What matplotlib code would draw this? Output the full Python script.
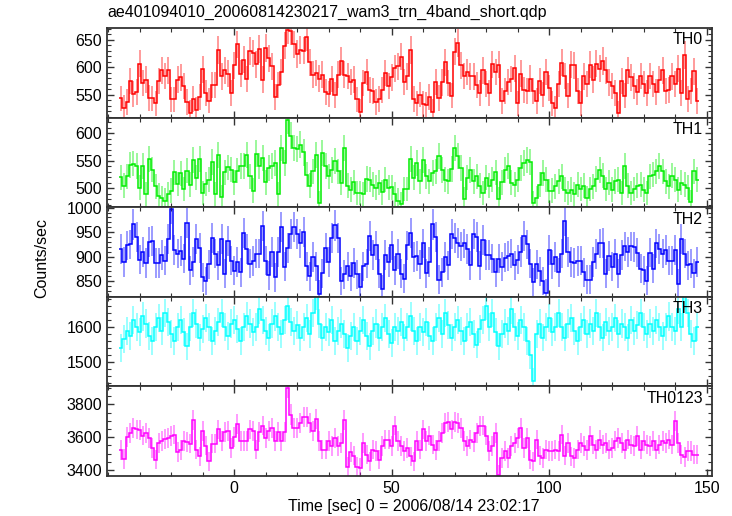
import numpy as np
import matplotlib
matplotlib.use("Agg")
import matplotlib.pyplot as plt
from matplotlib.ticker import MultipleLocator

plt.rcParams['font.family'] = ['Liberation Sans', 'DejaVu Sans']

# 1 s bins, first bin centred at -36 s
t_first = -36
t_last = 147

th0 = [543, 526, 536, 575, 551, 554, 606, 571, 577, 544,
       543, 534, 575, 594, 584, 594, 541, 541, 577, 581,
       566, 536, 517, 542, 522, 546, 596, 553, 539, 568,
       568, 631, 583, 594, 588, 552, 603, 641, 588, 613,
       578, 629, 625, 605, 633, 577, 634, 616, 601, 546,
       568, 591, 639, 667, 666, 641, 624, 631, 630, 655,
       609, 586, 589, 579, 586, 554, 551, 578, 549, 586,
       611, 586, 584, 573, 577, 541, 519, 571, 591, 558,
       556, 536, 542, 558, 589, 566, 581, 598, 601, 619,
       573, 583, 631, 542, 534,
       550, 533, 531, 546, 519, 573, 544, 572, 609, 571,
       548, 628, 643, 603, 584, 591, 583, 583, 567, 552,
       594, 569, 552, 605, 591, 604, 538, 556, 573, 578,
       598, 534, 588, 559, 556, 579, 556, 538, 575, 550,
       591, 561, 534, 525, 569, 608, 584, 548, 604, 603,
       556, 534, 583, 569, 604, 577, 606, 597, 611, 594,
       572, 566, 553, 516, 575, 548, 594, 581, 566, 554,
       584, 569, 553, 584, 569, 554, 577, 594, 556, 559,
       583, 569, 597, 553, 622, 542, 556, 592, 538]

th1 = [520, 505, 522, 543, 545, 541, 501, 540, 489, 553,
       534, 504, 487, 483, 478, 489, 496, 529, 508, 527,
       499, 532, 507, 552, 519, 553, 492, 508, 516, 547,
       490, 561, 484, 529, 538, 534, 511, 532, 540, 540,
       561, 522, 496, 563, 540, 555, 511, 537, 540, 546,
       490, 573, 546,
       623,
       595, 573, 571, 579, 565, 525, 505, 531, 561, 474,
       564, 540, 522, 533, 549, 531, 510, 573, 505, 498,
       511, 492, 492, 490, 517, 516, 507, 501, 510, 493,
       516, 501, 502, 489, 478, 471,
       499, 499, 553, 519, 546,
       513, 552, 522, 513, 528, 531, 558, 533, 516, 513,
       535, 573, 558, 537, 480, 519, 533, 513, 522, 505,
       492, 519, 505, 516, 529, 480, 511, 533, 540, 510,
       507, 516, 537, 546, 552, 547, 474, 483, 507, 528,
       516, 495, 496, 504, 513, 522, 498, 492, 498, 489,
       507, 499, 505, 483, 499, 504, 517, 533, 523, 499,
       510, 498, 513, 516, 492, 540, 505, 492, 499, 505,
       507, 498, 492, 522, 525, 531, 540, 531, 513, 504,
       523, 516, 498, 510, 507, 501, 475, 531,
       516]

th2 = [915, 889, 923, 925, 966, 940, 894, 910, 887, 930,
       932, 887, 887, 903, 892, 936, 998, 914, 906, 911,
       896, 969, 872, 889, 937, 918, 858, 850, 884, 938,
       906, 882, 937, 865, 932, 892, 871, 889, 868, 949,
       916, 886, 891, 906, 906, 963, 892, 862, 910, 858,
       910, 961, 879, 918, 947, 961, 947, 927, 951, 880,
       860, 899, 880, 824, 866, 918, 889, 938, 964, 938,
       850, 864, 880, 860, 887, 864, 838, 880, 886, 942,
       903, 923, 865, 834, 903, 889, 923, 872, 905, 865,
       855, 923, 949, 899,
       901, 884, 927, 866, 889, 966, 940, 853, 868, 899,
       882, 947, 938, 928, 921, 927, 916, 882, 946, 940,
       881, 934, 903, 903, 896, 868, 896, 879, 898, 901,
       906, 882, 894, 910, 943, 925, 886, 848, 884, 870,
       850, 825, 913, 884, 899, 868, 906, 973, 910, 889,
       887, 891, 892, 868, 853, 853, 889, 905, 927, 928,
       865, 901, 879, 906, 865, 903, 921, 910, 921, 920,
       908, 875, 872, 851, 908, 875, 927, 915, 906, 913,
       892, 892, 913, 845, 937, 906, 882, 886, 866, 889]

th3 = [1540, 1565, 1590, 1575, 1620, 1600, 1585, 1630, 1610, 1575,
       1560, 1600, 1625, 1590, 1640, 1615, 1580, 1560, 1600, 1620,
       1585, 1545, 1600, 1640, 1610, 1570, 1595, 1625, 1600, 1560,
       1590, 1615, 1640, 1600, 1575, 1610, 1620, 1595, 1560, 1600,
       1630, 1610, 1585, 1600, 1650, 1620, 1590, 1570, 1610, 1630,
       1600, 1580, 1620, 1660, 1615, 1590, 1605, 1570, 1600, 1625,
       1580, 1640, 1690, 1610, 1570, 1600, 1585, 1620, 1560, 1590,
       1610, 1580, 1540, 1575, 1600, 1560, 1590, 1620, 1575, 1545,
       1590, 1610, 1570, 1600, 1625, 1580, 1555, 1600, 1590, 1615,
       1570, 1600, 1630, 1590, 1560, 1600, 1585, 1615, 1575, 1560,
       1600, 1625, 1580, 1640, 1605, 1570, 1600, 1620, 1590, 1560,
       1600, 1615, 1580, 1550, 1595, 1620, 1660, 1600, 1640, 1585,
       1545, 1580, 1610, 1590, 1650, 1600, 1575, 1620, 1600, 1560,
       1520, 1445, 1580, 1610, 1570, 1600, 1625, 1585, 1600, 1640,
       1600, 1570, 1610, 1625, 1590, 1560, 1600, 1620, 1580, 1610,
       1590, 1640, 1600, 1570, 1615, 1590, 1600, 1625, 1580, 1610,
       1600, 1570, 1620, 1590, 1605, 1640, 1600, 1580, 1610, 1590,
       1620, 1600, 1575, 1600, 1630, 1600, 1590, 1650, 1600, 1690,
       1640, 1580, 1560, 1600]

th0123 = [3521, 3468, 3600, 3626, 3657, 3647, 3643, 3610, 3626, 3596,
          3535, 3464, 3565, 3576, 3590, 3596, 3606, 3616, 3509, 3521,
          3576, 3570, 3561, 3704, 3525, 3484, 3637, 3549, 3454, 3561,
          3561, 3647, 3576, 3630, 3637, 3535, 3602, 3681, 3576, 3576,
          3576, 3647, 3637, 3525, 3630, 3671, 3596, 3637, 3657, 3576,
          3630, 3576, 3630, 3900, 3738, 3657, 3657, 3687, 3724, 3724,
          3687, 3637, 3708, 3576, 3525, 3525, 3576, 3545, 3596, 3545,
          3565, 3704, 3419, 3509, 3488, 3419, 3413, 3565, 3494, 3454,
          3525, 3515, 3464, 3545, 3586, 3586, 3545, 3671, 3576, 3545,
          3515, 3535, 3484, 3454, 3576, 3525, 3647, 3576, 3610, 3555,
          3521, 3576, 3626, 3687, 3691, 3647, 3691, 3687, 3657, 3576,
          3545, 3586, 3570, 3626, 3667, 3671, 3610, 3515, 3545, 3626,
          3373, 3474, 3515, 3474, 3545, 3565, 3596, 3657, 3535, 3596,
          3464, 3454, 3586, 3488, 3474, 3525, 3515, 3515, 3525, 3515,
          3616, 3488, 3565, 3484, 3474, 3525, 3565, 3545, 3521, 3606,
          3555, 3525, 3586, 3555, 3565, 3525, 3535, 3576, 3596, 3565,
          3525, 3586, 3555, 3545, 3606, 3525, 3576, 3555, 3545, 3576,
          3525, 3555, 3576, 3565, 3586, 3555, 3697, 3565, 3494, 3480,
          3515, 3515, 3494, 3494]

panel_names = ['TH0', 'TH1', 'TH2', 'TH3', 'TH0123']
panel_data = [th0, th1, th2, th3, th0123]
colors = ['#ff0000', '#00ee00', '#0000ff', '#00ffff', '#ff00ff']
ylims = [(508, 671), (466, 628), (818, 1001), (1431, 1686), (3364, 3909)]
ymajor = [50, 50, 50, 100, 200]
yminor = [10, 10, 10, 20, 50]

time_sec = np.arange(t_first, t_last + 1)
edges = np.append(time_sec - 0.5, time_sec[-1] + 0.5)

fig, axes = plt.subplots(5, 1, sharex=True, figsize=(7.32, 5.16), dpi=100,
                         gridspec_kw=dict(hspace=0))
fig.subplots_adjust(left=107 / 732, right=712 / 732, top=1 - 28 / 516, bottom=1 - 476 / 516)

for ax, name, vals, c, yl, ymj, ymn in zip(axes, panel_names, panel_data, colors,
                                          ylims, ymajor, yminor):
    vals = np.asarray(vals, dtype=float)
    err = np.sqrt(vals)  # 1 s bins -> poisson error
    ax.errorbar(time_sec, vals, yerr=err, fmt='none', ecolor=c, elinewidth=1.1,
                alpha=0.5, capsize=0)
    ax.stairs(vals, edges, baseline=None, color=c, lw=1.1)
    ax.set_ylim(*yl)
    ax.yaxis.set_major_locator(MultipleLocator(ymj))
    ax.yaxis.set_minor_locator(MultipleLocator(ymn))
    ax.xaxis.set_major_locator(MultipleLocator(50))
    ax.xaxis.set_minor_locator(MultipleLocator(10))
    ax.tick_params(which='both', direction='in', top=True, right=True,
                   color='#333333', labelsize=11.5)
    ax.tick_params(which='major', length=5, width=1.0)
    ax.tick_params(which='minor', length=3, width=0.8)
    for sp in ax.spines.values():
        sp.set_color('#333333')
        sp.set_linewidth(1.3)
    ax.text(0.985, 0.95, name, transform=ax.transAxes, ha='right', va='top',
            fontsize=11.5)

axes[0].set_xlim(-40.4, 151.7)

fig.text(107 / 732, 1 - 12 / 516, 'ae401094010_20060814230217_wam3_trn_4band_short.qdp',
         ha='left', va='center', fontsize=11.5)
fig.text(42 / 732, 0.5, 'Counts/sec', rotation=90, ha='center', va='center', fontsize=11.5)
fig.text(414 / 732, 1 - 507 / 516, 'Time [sec] 0 = 2006/08/14 23:02:17',
         ha='center', va='center', fontsize=11.5)

fig.savefig('out.png', dpi=100)
